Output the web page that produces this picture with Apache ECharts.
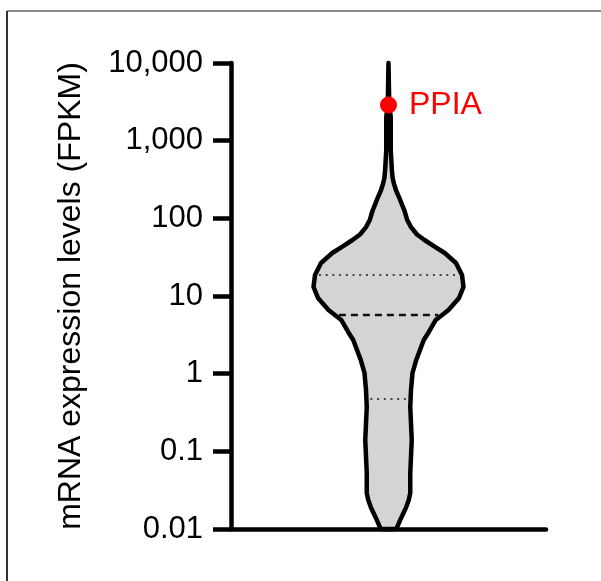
<!DOCTYPE html>
<html>
<head>
<meta charset="utf-8">
<script src="https://cdn.jsdelivr.net/npm/echarts@6/dist/echarts.min.js"></script>
<style>
  html, body { margin: 0; padding: 0; background: #fff; }
</style>
</head>
<body>
<!-- chart container -->
<div id="main" style="width: 601px; height: 581px"></div>
<script>
// y axis tick labels (log scale, FPKM)
var tickValues = [0.01, 0.1, 1, 10, 100, 1000, 10000];
var tickLabels = ["0.01", "0.1", "1", "10", "100", "1,000", "10,000"];

// violin outline: expression level and relative density (max = 1)
var violinValues = [10000, 2877, 2014, 758, 419, 330, 285, 230, 188, 150, 128, 95, 77, 62, 52.6, 43, 35.8, 26.6, 18.6, 13.1, 9.42, 6.6, 4.91, 3.34, 2.71, 1.5, 1.02, 0.616, 0.372, 0.14, 0.0526, 0.0291, 0.0236, 0.019, 0.0161, 0.013, 0.0106, 0.01];
var violinDensity = [0, 0.01, 0.03, 0.03, 0.045, 0.055, 0.07, 0.1, 0.14, 0.18, 0.21, 0.25, 0.3, 0.38, 0.48, 0.62, 0.75, 0.9, 0.98, 1.0, 0.94, 0.8, 0.63, 0.53, 0.47, 0.37, 0.32, 0.3, 0.29, 0.31, 0.29, 0.29, 0.27, 0.235, 0.2, 0.155, 0.115, 0.1];

// quartiles: lower, median, upper
var quartiles = [0.472, 5.69, 18.6];

// highlighted gene
var highlightName = "PPIA";
var highlightValue = 2880;

var FONT = "'Liberation Sans', Arial, sans-serif";

// density at a given value, linear in log space
function densityAt(v) {
  var lv = Math.log10(v);
  for (var i = 0; i < violinValues.length - 1; i++) {
    var a = Math.log10(violinValues[i]), b = Math.log10(violinValues[i + 1]);
    if (lv <= a && lv >= b) {
      var t = (a - lv) / (a - b);
      return violinDensity[i] + t * (violinDensity[i + 1] - violinDensity[i]);
    }
  }
  return 0;
}

var violinData = violinValues.map(function (v, i) { return [violinDensity[i], v]; });

var option = {
  animation: false,
  grid: { left: 231, right: 55, top: 63, bottom: 52 },
  xAxis: {
    type: "value",
    min: -2.1,
    max: 2.1,
    axisLine: { show: true, onZero: false, lineStyle: { color: "#000", width: 4.5 } },
    axisTick: { show: false },
    axisLabel: { show: false },
    splitLine: { show: false }
  },
  yAxis: {
    type: "log",
    logBase: 10,
    min: 0.01,
    max: 10000,
    splitNumber: 6,
    name: "mRNA expression levels (FPKM)",
    nameLocation: "middle",
    nameGap: 144,
    nameTextStyle: { fontSize: 32, color: "#000", fontFamily: FONT },
    axisLine: { show: true, onZero: false, lineStyle: { color: "#000", width: 4.5 } },
    axisTick: { show: true, length: 18, lineStyle: { color: "#000", width: 4.5 } },
    axisLabel: {
      fontSize: 31,
      color: "#000",
      fontFamily: FONT,
      margin: 28,
      formatter: function (v) {
        for (var i = 0; i < tickValues.length; i++) {
          if (Math.abs(Math.log10(v) - Math.log10(tickValues[i])) < 1e-6) return tickLabels[i];
        }
        return "";
      }
    },
    splitLine: { show: false }
  },
  series: [
    {
      type: "custom",
      data: violinData,
      clip: false,
      renderItem: function (params, api) {
        if (params.dataIndex !== 0) return null;
        var right = [], left = [];
        for (var i = 0; i < violinValues.length; i++) {
          right.push(api.coord([violinDensity[i], violinValues[i]]));
        }
        for (var j = violinValues.length - 1; j >= 0; j--) {
          left.push(api.coord([-violinDensity[j], violinValues[j]]));
        }
        var children = [{
          type: "polygon",
          shape: { points: right.concat(left) },
          style: { fill: "#d4d4d4", stroke: "#000", lineWidth: 4.5, lineJoin: "round" }
        }];
        quartiles.forEach(function (q, k) {
          var d = densityAt(q);
          var p1 = api.coord([-d, q]);
          var p2 = api.coord([d, q]);
          var median = k === 1;
          children.push({
            type: "line",
            shape: { x1: p1[0] + 4, y1: p1[1], x2: p2[0] - 4, y2: p2[1] },
            style: {
              stroke: median ? "#111" : "#444",
              lineWidth: median ? 2.5 : 2,
              lineDash: median ? [7, 5] : [2, 4.7]
            }
          });
        });
        return { type: "group", children: children };
      }
    },
    {
      type: "scatter",
      data: [[0, highlightValue]],
      symbolSize: 17,
      itemStyle: { color: "#ff0000", opacity: 1 },
      z: 5,
      label: {
        show: true,
        position: "right",
        distance: 12,
        formatter: highlightName,
        fontSize: 32,
        color: "#ff0000",
        fontFamily: FONT
      }
    }
  ],
  graphic: [
    { type: "line", shape: { x1: 7, y1: 11, x2: 601, y2: 11 }, style: { stroke: "#8a8a8a", lineWidth: 2 } },
    { type: "line", shape: { x1: 7, y1: 11, x2: 7, y2: 581 }, style: { stroke: "#333", lineWidth: 2 } }
  ]
};

var myChart = echarts.init(document.getElementById("main"));
myChart.setOption(option);
</script>
</body>
</html>
